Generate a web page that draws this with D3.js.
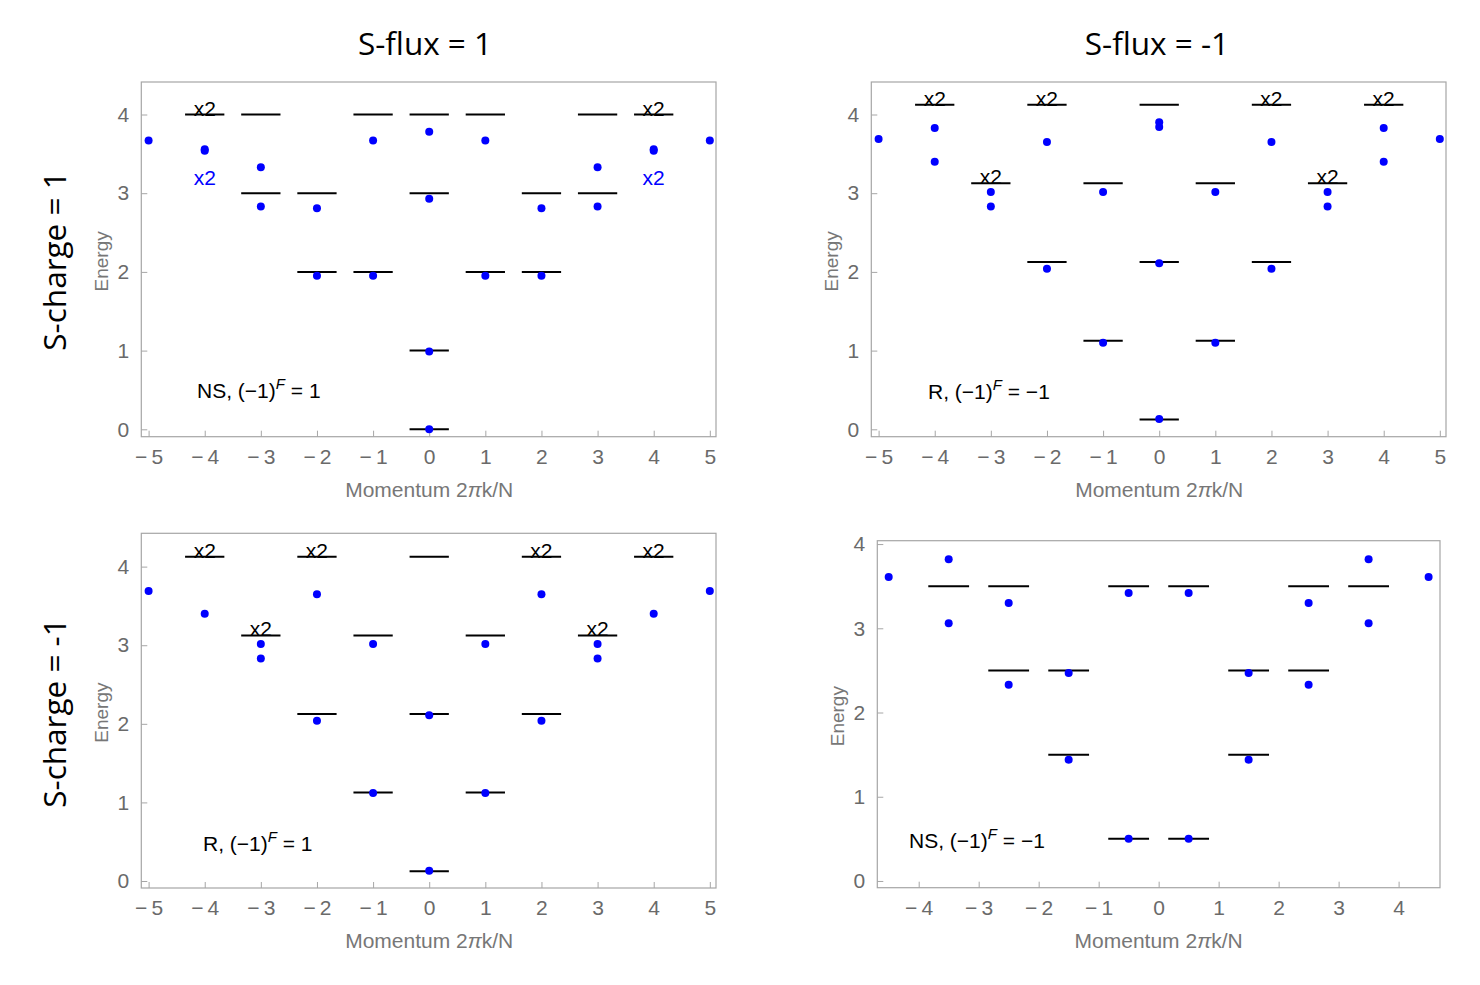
<!DOCTYPE html>
<html>
<head>
<meta charset="utf-8">
<script src="https://cdn.jsdelivr.net/npm/d3@7"></script>
<style>
  body { margin: 0; background: #fff; }
  svg { display: block; }
</style>
</head>
<body>
<div id="chart"></div>
<script>
// Column and row headers
const colTitles = ["S-flux = 1", "S-flux = -1"];
const rowTitles = ["S-charge = 1", "S-charge = -1"];

// Tick values
const intTicks = [-5, -4, -3, -2, -1, 0, 1, 2, 3, 4, 5];
const halfTicks = [-4, -3, -2, -1, 0, 1, 2, 3, 4];
const energyTicks = [0, 1, 2, 3, 4];

// NS sector, (-1)^F = 1  (top left)
const ptsNSeven = [[-5, 3.67], [-4, 3.56], [-4, 3.54], [-3, 3.33], [-3, 2.83], [-2, 2.81], [-2, 1.95],
  [-1, 3.67], [-1, 1.95], [0, 3.78], [0, 2.93], [0, 0.99], [0, 0.0], [1, 3.67], [1, 1.95],
  [2, 2.81], [2, 1.95], [3, 3.33], [3, 2.83], [4, 3.56], [4, 3.54], [5, 3.67]];
const lvlNSeven = [[-4, 4], [-3, 4], [-3, 3], [-2, 3], [-2, 2], [-1, 4], [-1, 2],
  [0, 4], [0, 3], [0, 1], [0, 0], [1, 4], [1, 2], [2, 3], [2, 2], [3, 4], [3, 3], [4, 4]];
const dblNSeven = [[-4, 4], [4, 4]];
const blueDblNSeven = [[-4, 3.2], [4, 3.2]];

// R sector, (-1)^F = -1  (top right)
const ptsRodd = [[-5, 3.69], [-4, 3.83], [-4, 3.40], [-3, 3.015], [-3, 2.83], [-2, 3.65], [-2, 2.04],
  [-1, 3.015], [-1, 1.10], [0, 3.90], [0, 3.84], [0, 2.11], [0, 0.13], [1, 3.015], [1, 1.10],
  [2, 3.65], [2, 2.04], [3, 3.015], [3, 2.83], [4, 3.83], [4, 3.40], [5, 3.69]];

// R sector, (-1)^F = 1  (bottom left)
const ptsReven = [[-5, 3.69], [-4, 3.40], [-3, 3.015], [-3, 2.83], [-2, 3.65], [-2, 2.04],
  [-1, 3.015], [-1, 1.12], [0, 2.11], [0, 0.13], [1, 3.015], [1, 1.12],
  [2, 3.65], [2, 2.04], [3, 3.015], [3, 2.83], [4, 3.40], [5, 3.69]];

// R sector levels (shared by both R panels)
const lvlR = [[-4, 4.125], [-3, 3.125], [-2, 4.125], [-2, 2.125], [-1, 3.125], [-1, 1.125],
  [0, 4.125], [0, 2.125], [0, 0.125], [1, 3.125], [1, 1.125], [2, 4.125], [2, 2.125],
  [3, 3.125], [4, 4.125]];
const dblR = [[-4, 4.125], [-3, 3.125], [-2, 4.125], [2, 4.125], [3, 3.125], [4, 4.125]];

// NS sector, (-1)^F = -1  (bottom right), half-integer momenta
const ptsNSodd = [[-4.5, 3.61], [-3.5, 3.82], [-3.5, 3.06], [-2.5, 3.30], [-2.5, 2.33],
  [-1.5, 2.47], [-1.5, 1.44], [-0.5, 3.42], [-0.5, 0.50], [0.5, 3.42], [0.5, 0.50],
  [1.5, 2.47], [1.5, 1.44], [2.5, 3.30], [2.5, 2.33], [3.5, 3.82], [3.5, 3.06], [4.5, 3.61]];
const lvlNSodd = [[-3.5, 3.5], [-2.5, 3.5], [-2.5, 2.5], [-1.5, 2.5], [-1.5, 1.5],
  [-0.5, 3.5], [-0.5, 0.5], [0.5, 3.5], [0.5, 0.5], [1.5, 2.5], [1.5, 1.5],
  [2.5, 3.5], [2.5, 2.5], [3.5, 3.5]];

// Panel layout (pixel boxes) and the data that goes in each
const panels = [
  { x0: 141.3, x1: 716, y0: 82, y1: 436.7, xd: [-5.13, 5.11], yd: [-0.094, 4.413], ticks: intTicks,
    pts: ptsNSeven, lvl: lvlNSeven, dbl: dblNSeven, blue: blueDblNSeven, half: 0.35,
    sector: "NS", sign: "1", lx: 197, ly: 398, ex: 101 },
  { x0: 871.3, x1: 1446, y0: 82, y1: 436.7, xd: [-5.13, 5.11], yd: [-0.094, 4.413], ticks: intTicks,
    pts: ptsRodd, lvl: lvlR, dbl: dblR, blue: [], half: 0.35,
    sector: "R", sign: "\u22121", lx: 928, ly: 399, ex: 831 },
  { x0: 141.3, x1: 716, y0: 533.3, y1: 888, xd: [-5.13, 5.11], yd: [-0.089, 4.424], ticks: intTicks,
    pts: ptsReven, lvl: lvlR, dbl: dblR, blue: [], half: 0.35,
    sector: "R", sign: "1", lx: 203, ly: 851, ex: 101 },
  { x0: 877.3, x1: 1440, y0: 540.7, y1: 887.7, xd: [-4.69, 4.69], yd: [-0.08, 4.04], ticks: halfTicks,
    pts: ptsNSodd, lvl: lvlNSodd, dbl: [], blue: [], half: 0.34,
    sector: "NS", sign: "\u22121", lx: 909, ly: 848, ex: 837 }
];

const svg = d3.select("#chart").append("svg")
  .attr("width", 1480).attr("height", 985)
  .style("font-family", "'Liberation Sans', Arial, sans-serif");

const fmt = d => d < 0 ? "\u2212\u2009" + Math.abs(d) : String(d);

panels.forEach(p => {
  const x = d3.scaleLinear().domain(p.xd).range([p.x0, p.x1]);
  const y = d3.scaleLinear().domain(p.yd).range([p.y1, p.y0]);
  const g = svg.append("g");

  // frame
  g.append("rect")
    .attr("x", p.x0).attr("y", p.y0)
    .attr("width", p.x1 - p.x0).attr("height", p.y1 - p.y0)
    .attr("fill", "none").attr("stroke", "#a6a6a6").attr("stroke-width", 1.2);

  // bottom axis, ticks inward
  const xa = g.append("g")
    .attr("transform", `translate(0,${p.y1})`)
    .call(d3.axisBottom(x).tickValues(p.ticks).tickSizeInner(-6).tickSizeOuter(0).tickPadding(12).tickFormat(fmt));
  // left axis, ticks inward
  const ya = g.append("g")
    .attr("transform", `translate(${p.x0},0)`)
    .call(d3.axisLeft(y).tickValues(energyTicks).tickSizeInner(-6).tickSizeOuter(0).tickPadding(12).tickFormat(fmt));
  [xa, ya].forEach(a => {
    a.select(".domain").remove();
    a.selectAll(".tick line").attr("stroke", "#a6a6a6");
    a.selectAll(".tick text").attr("fill", "#6a6a6a")
      .attr("font-size", null).attr("font-family", null)
      .style("font-size", "21px");
  });

  // energy levels
  g.selectAll(".lvl").data(p.lvl).enter().append("line")
    .attr("x1", d => x(d[0] - p.half)).attr("x2", d => x(d[0] + p.half))
    .attr("y1", d => y(d[1])).attr("y2", d => y(d[1]))
    .attr("stroke", "#000").attr("stroke-width", 2);

  // degeneracy labels over levels
  g.selectAll(".dbl").data(p.dbl).enter().append("text")
    .attr("x", d => x(d[0])).attr("y", d => y(d[1]) + 1)
    .attr("text-anchor", "middle").style("font-size", "21px").attr("fill", "#000")
    .text("x2");
  g.selectAll(".blue").data(p.blue).enter().append("text")
    .attr("x", d => x(d[0])).attr("y", d => y(d[1]))
    .attr("text-anchor", "middle").attr("dominant-baseline", "central")
    .style("font-size", "21px").attr("fill", "#0000ff")
    .text("x2");

  // numerical spectrum
  g.selectAll(".pt").data(p.pts).enter().append("circle")
    .attr("cx", d => x(d[0])).attr("cy", d => y(d[1])).attr("r", 4)
    .attr("fill", "#0000ff");

  // sector annotation
  const t = g.append("text").attr("x", p.lx).attr("y", p.ly)
    .style("font-size", "21px").attr("fill", "#000");
  t.append("tspan").text(p.sector + ", (\u22121)");
  t.append("tspan").text("F").attr("font-style", "italic").style("font-size", "15px").attr("dy", -9);
  t.append("tspan").text(" = " + p.sign).attr("dy", 9);

  // axis titles
  svg.append("text")
    .attr("transform", `translate(${p.ex},${(p.y0 + p.y1) / 2 + 2}) rotate(-90)`)
    .attr("text-anchor", "middle").attr("dominant-baseline", "central")
    .style("font-size", "19px").attr("fill", "#777")
    .text("Energy");
  const m = svg.append("text")
    .attr("x", x(0)).attr("y", p.y1 + 60)
    .attr("text-anchor", "middle")
    .style("font-size", "21px").attr("fill", "#777");
  m.append("tspan").text("Momentum 2");
  m.append("tspan").text("\u03c0").attr("font-style", "italic");
  m.append("tspan").text("k/N");
});

// column headers
svg.selectAll(".coltitle").data(colTitles).enter().append("text")
  .attr("x", (d, i) => i === 0 ? 425 : 1157).attr("y", 55)
  .attr("text-anchor", "middle")
  .style("font-family", "'Open Sans', sans-serif").style("font-size", "31.5px")
  .attr("fill", "#000")
  .text(d => d);

// row headers
svg.selectAll(".rowtitle").data(rowTitles).enter().append("text")
  .attr("transform", (d, i) => `translate(53,${i === 0 ? 261 : 713}) rotate(-90)`)
  .attr("text-anchor", "middle").attr("dominant-baseline", "central")
  .style("font-family", "'Open Sans', sans-serif").style("font-size", "31.5px")
  .attr("fill", "#000")
  .text(d => d);
</script>
</body>
</html>
